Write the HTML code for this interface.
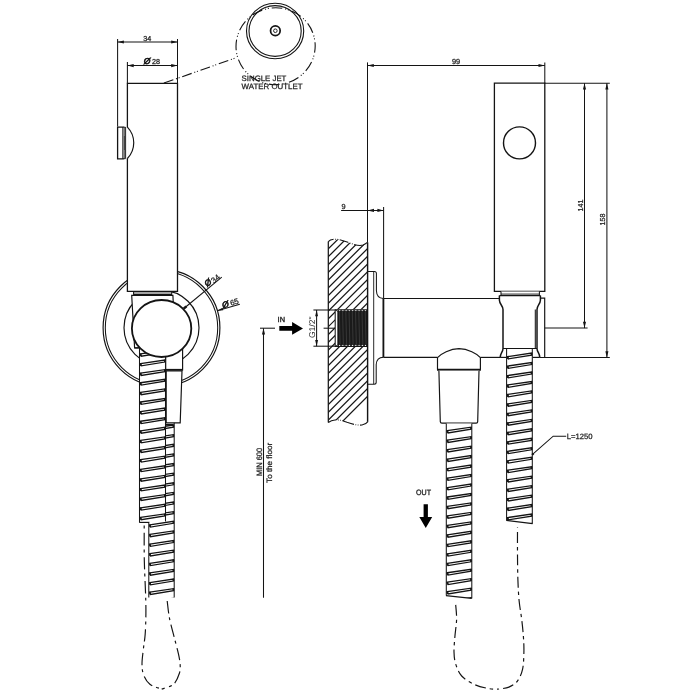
<!DOCTYPE html>
<html lang="en">
<head>
<meta charset="utf-8">
<title>Hand shower set - technical drawing</title>
<style>
html,body{margin:0;padding:0;background:#fff;}
body{width:700px;height:700px;overflow:hidden;}
svg{display:block;will-change:transform;}
svg text{font-family:"Liberation Sans",sans-serif;fill:#262626;stroke:#262626;stroke-width:0.27px;text-rendering:geometricPrecision;}
</style>
</head>
<body>
<svg width="700" height="700" viewBox="0 0 700 700" fill="none" stroke="#141414" stroke-linecap="butt" stroke-linejoin="miter">
<rect x="0" y="0" width="700" height="700" fill="#fff" stroke="none"/>
<circle cx="161.50" cy="327.80" r="58.40" stroke-width="1.17" fill="none" />
<circle cx="161.50" cy="327.80" r="56.20" stroke-width="1.04" fill="none" />
<circle cx="161.50" cy="327.80" r="37.50" stroke-width="1.17" fill="none" />
<clipPath id="h1"><path d="M147.8,420 H175.2 V597.5 H147.8 Z"/></clipPath>
<g clip-path="url(#h1)">
<rect x="148.8" y="415" width="25.399999999999977" height="187.5" fill="#fff" stroke="none"/>
<line x1="148.80" y1="415.00" x2="148.80" y2="602.50" stroke-width="1.04" />
<line x1="174.20" y1="415.00" x2="174.20" y2="602.50" stroke-width="1.04" />
<path d="M149.80,428.60 L173.40,425.10 L173.40,427.10 L150.60,430.90 Z" stroke-width="1.30" fill="#fff" />
<line x1="149.80" y1="428.40" x2="150.10" y2="430.90" stroke-width="1.69" />
<line x1="173.40" y1="424.90" x2="173.40" y2="427.20" stroke-width="1.43" />
<path d="M149.80,438.22 L173.40,434.72 L173.40,436.72 L150.60,440.52 Z" stroke-width="1.30" fill="#fff" />
<line x1="149.80" y1="438.02" x2="150.10" y2="440.52" stroke-width="1.69" />
<line x1="173.40" y1="434.52" x2="173.40" y2="436.82" stroke-width="1.43" />
<path d="M149.80,447.84 L173.40,444.34 L173.40,446.34 L150.60,450.14 Z" stroke-width="1.30" fill="#fff" />
<line x1="149.80" y1="447.64" x2="150.10" y2="450.14" stroke-width="1.69" />
<line x1="173.40" y1="444.14" x2="173.40" y2="446.44" stroke-width="1.43" />
<path d="M149.80,457.46 L173.40,453.96 L173.40,455.96 L150.60,459.76 Z" stroke-width="1.30" fill="#fff" />
<line x1="149.80" y1="457.26" x2="150.10" y2="459.76" stroke-width="1.69" />
<line x1="173.40" y1="453.76" x2="173.40" y2="456.06" stroke-width="1.43" />
<path d="M149.80,467.08 L173.40,463.58 L173.40,465.58 L150.60,469.38 Z" stroke-width="1.30" fill="#fff" />
<line x1="149.80" y1="466.88" x2="150.10" y2="469.38" stroke-width="1.69" />
<line x1="173.40" y1="463.38" x2="173.40" y2="465.68" stroke-width="1.43" />
<path d="M149.80,476.70 L173.40,473.20 L173.40,475.20 L150.60,479.00 Z" stroke-width="1.30" fill="#fff" />
<line x1="149.80" y1="476.50" x2="150.10" y2="479.00" stroke-width="1.69" />
<line x1="173.40" y1="473.00" x2="173.40" y2="475.30" stroke-width="1.43" />
<path d="M149.80,486.32 L173.40,482.82 L173.40,484.82 L150.60,488.62 Z" stroke-width="1.30" fill="#fff" />
<line x1="149.80" y1="486.12" x2="150.10" y2="488.62" stroke-width="1.69" />
<line x1="173.40" y1="482.62" x2="173.40" y2="484.92" stroke-width="1.43" />
<path d="M149.80,495.94 L173.40,492.44 L173.40,494.44 L150.60,498.24 Z" stroke-width="1.30" fill="#fff" />
<line x1="149.80" y1="495.74" x2="150.10" y2="498.24" stroke-width="1.69" />
<line x1="173.40" y1="492.24" x2="173.40" y2="494.54" stroke-width="1.43" />
<path d="M149.80,505.56 L173.40,502.06 L173.40,504.06 L150.60,507.86 Z" stroke-width="1.30" fill="#fff" />
<line x1="149.80" y1="505.36" x2="150.10" y2="507.86" stroke-width="1.69" />
<line x1="173.40" y1="501.86" x2="173.40" y2="504.16" stroke-width="1.43" />
<path d="M149.80,515.18 L173.40,511.68 L173.40,513.68 L150.60,517.48 Z" stroke-width="1.30" fill="#fff" />
<line x1="149.80" y1="514.98" x2="150.10" y2="517.48" stroke-width="1.69" />
<line x1="173.40" y1="511.48" x2="173.40" y2="513.78" stroke-width="1.43" />
<path d="M149.80,524.80 L173.40,521.30 L173.40,523.30 L150.60,527.10 Z" stroke-width="1.30" fill="#fff" />
<line x1="149.80" y1="524.60" x2="150.10" y2="527.10" stroke-width="1.69" />
<line x1="173.40" y1="521.10" x2="173.40" y2="523.40" stroke-width="1.43" />
<path d="M149.80,534.42 L173.40,530.92 L173.40,532.92 L150.60,536.72 Z" stroke-width="1.30" fill="#fff" />
<line x1="149.80" y1="534.22" x2="150.10" y2="536.72" stroke-width="1.69" />
<line x1="173.40" y1="530.72" x2="173.40" y2="533.02" stroke-width="1.43" />
<path d="M149.80,544.04 L173.40,540.54 L173.40,542.54 L150.60,546.34 Z" stroke-width="1.30" fill="#fff" />
<line x1="149.80" y1="543.84" x2="150.10" y2="546.34" stroke-width="1.69" />
<line x1="173.40" y1="540.34" x2="173.40" y2="542.64" stroke-width="1.43" />
<path d="M149.80,553.66 L173.40,550.16 L173.40,552.16 L150.60,555.96 Z" stroke-width="1.30" fill="#fff" />
<line x1="149.80" y1="553.46" x2="150.10" y2="555.96" stroke-width="1.69" />
<line x1="173.40" y1="549.96" x2="173.40" y2="552.26" stroke-width="1.43" />
<path d="M149.80,563.28 L173.40,559.78 L173.40,561.78 L150.60,565.58 Z" stroke-width="1.30" fill="#fff" />
<line x1="149.80" y1="563.08" x2="150.10" y2="565.58" stroke-width="1.69" />
<line x1="173.40" y1="559.58" x2="173.40" y2="561.88" stroke-width="1.43" />
<path d="M149.80,572.90 L173.40,569.40 L173.40,571.40 L150.60,575.20 Z" stroke-width="1.30" fill="#fff" />
<line x1="149.80" y1="572.70" x2="150.10" y2="575.20" stroke-width="1.69" />
<line x1="173.40" y1="569.20" x2="173.40" y2="571.50" stroke-width="1.43" />
<path d="M149.80,582.52 L173.40,579.02 L173.40,581.02 L150.60,584.82 Z" stroke-width="1.30" fill="#fff" />
<line x1="149.80" y1="582.32" x2="150.10" y2="584.82" stroke-width="1.69" />
<line x1="173.40" y1="578.82" x2="173.40" y2="581.12" stroke-width="1.43" />
<path d="M149.80,592.14 L173.40,588.64 L173.40,590.64 L150.60,594.44 Z" stroke-width="1.30" fill="#fff" />
<line x1="149.80" y1="591.94" x2="150.10" y2="594.44" stroke-width="1.69" />
<line x1="173.40" y1="588.44" x2="173.40" y2="590.74" stroke-width="1.43" />
<path d="M149.80,601.76 L173.40,598.26 L173.40,600.26 L150.60,604.06 Z" stroke-width="1.30" fill="#fff" />
<line x1="149.80" y1="601.56" x2="150.10" y2="604.06" stroke-width="1.69" />
<line x1="173.40" y1="598.06" x2="173.40" y2="600.36" stroke-width="1.43" />
</g>
<clipPath id="h2"><path d="M138,345 H167 V521.5 H149.5 V522.6 H138 Z"/></clipPath>
<g clip-path="url(#h2)">
<rect x="139.5" y="340" width="26.0" height="187.60000000000002" fill="#fff" stroke="none"/>
<line x1="139.50" y1="340.00" x2="139.50" y2="527.60" stroke-width="1.04" />
<line x1="165.50" y1="340.00" x2="165.50" y2="527.60" stroke-width="1.04" />
<path d="M140.50,353.90 L164.70,350.40 L164.70,352.40 L141.30,356.20 Z" stroke-width="1.30" fill="#fff" />
<line x1="140.50" y1="353.70" x2="140.80" y2="356.20" stroke-width="1.69" />
<line x1="164.70" y1="350.20" x2="164.70" y2="352.50" stroke-width="1.43" />
<path d="M140.50,363.52 L164.70,360.02 L164.70,362.02 L141.30,365.82 Z" stroke-width="1.30" fill="#fff" />
<line x1="140.50" y1="363.32" x2="140.80" y2="365.82" stroke-width="1.69" />
<line x1="164.70" y1="359.82" x2="164.70" y2="362.12" stroke-width="1.43" />
<path d="M140.50,373.14 L164.70,369.64 L164.70,371.64 L141.30,375.44 Z" stroke-width="1.30" fill="#fff" />
<line x1="140.50" y1="372.94" x2="140.80" y2="375.44" stroke-width="1.69" />
<line x1="164.70" y1="369.44" x2="164.70" y2="371.74" stroke-width="1.43" />
<path d="M140.50,382.76 L164.70,379.26 L164.70,381.26 L141.30,385.06 Z" stroke-width="1.30" fill="#fff" />
<line x1="140.50" y1="382.56" x2="140.80" y2="385.06" stroke-width="1.69" />
<line x1="164.70" y1="379.06" x2="164.70" y2="381.36" stroke-width="1.43" />
<path d="M140.50,392.38 L164.70,388.88 L164.70,390.88 L141.30,394.68 Z" stroke-width="1.30" fill="#fff" />
<line x1="140.50" y1="392.18" x2="140.80" y2="394.68" stroke-width="1.69" />
<line x1="164.70" y1="388.68" x2="164.70" y2="390.98" stroke-width="1.43" />
<path d="M140.50,402.00 L164.70,398.50 L164.70,400.50 L141.30,404.30 Z" stroke-width="1.30" fill="#fff" />
<line x1="140.50" y1="401.80" x2="140.80" y2="404.30" stroke-width="1.69" />
<line x1="164.70" y1="398.30" x2="164.70" y2="400.60" stroke-width="1.43" />
<path d="M140.50,411.62 L164.70,408.12 L164.70,410.12 L141.30,413.92 Z" stroke-width="1.30" fill="#fff" />
<line x1="140.50" y1="411.42" x2="140.80" y2="413.92" stroke-width="1.69" />
<line x1="164.70" y1="407.92" x2="164.70" y2="410.22" stroke-width="1.43" />
<path d="M140.50,421.24 L164.70,417.74 L164.70,419.74 L141.30,423.54 Z" stroke-width="1.30" fill="#fff" />
<line x1="140.50" y1="421.04" x2="140.80" y2="423.54" stroke-width="1.69" />
<line x1="164.70" y1="417.54" x2="164.70" y2="419.84" stroke-width="1.43" />
<path d="M140.50,430.86 L164.70,427.36 L164.70,429.36 L141.30,433.16 Z" stroke-width="1.30" fill="#fff" />
<line x1="140.50" y1="430.66" x2="140.80" y2="433.16" stroke-width="1.69" />
<line x1="164.70" y1="427.16" x2="164.70" y2="429.46" stroke-width="1.43" />
<path d="M140.50,440.48 L164.70,436.98 L164.70,438.98 L141.30,442.78 Z" stroke-width="1.30" fill="#fff" />
<line x1="140.50" y1="440.28" x2="140.80" y2="442.78" stroke-width="1.69" />
<line x1="164.70" y1="436.78" x2="164.70" y2="439.08" stroke-width="1.43" />
<path d="M140.50,450.10 L164.70,446.60 L164.70,448.60 L141.30,452.40 Z" stroke-width="1.30" fill="#fff" />
<line x1="140.50" y1="449.90" x2="140.80" y2="452.40" stroke-width="1.69" />
<line x1="164.70" y1="446.40" x2="164.70" y2="448.70" stroke-width="1.43" />
<path d="M140.50,459.72 L164.70,456.22 L164.70,458.22 L141.30,462.02 Z" stroke-width="1.30" fill="#fff" />
<line x1="140.50" y1="459.52" x2="140.80" y2="462.02" stroke-width="1.69" />
<line x1="164.70" y1="456.02" x2="164.70" y2="458.32" stroke-width="1.43" />
<path d="M140.50,469.34 L164.70,465.84 L164.70,467.84 L141.30,471.64 Z" stroke-width="1.30" fill="#fff" />
<line x1="140.50" y1="469.14" x2="140.80" y2="471.64" stroke-width="1.69" />
<line x1="164.70" y1="465.64" x2="164.70" y2="467.94" stroke-width="1.43" />
<path d="M140.50,478.96 L164.70,475.46 L164.70,477.46 L141.30,481.26 Z" stroke-width="1.30" fill="#fff" />
<line x1="140.50" y1="478.76" x2="140.80" y2="481.26" stroke-width="1.69" />
<line x1="164.70" y1="475.26" x2="164.70" y2="477.56" stroke-width="1.43" />
<path d="M140.50,488.58 L164.70,485.08 L164.70,487.08 L141.30,490.88 Z" stroke-width="1.30" fill="#fff" />
<line x1="140.50" y1="488.38" x2="140.80" y2="490.88" stroke-width="1.69" />
<line x1="164.70" y1="484.88" x2="164.70" y2="487.18" stroke-width="1.43" />
<path d="M140.50,498.20 L164.70,494.70 L164.70,496.70 L141.30,500.50 Z" stroke-width="1.30" fill="#fff" />
<line x1="140.50" y1="498.00" x2="140.80" y2="500.50" stroke-width="1.69" />
<line x1="164.70" y1="494.50" x2="164.70" y2="496.80" stroke-width="1.43" />
<path d="M140.50,507.82 L164.70,504.32 L164.70,506.32 L141.30,510.12 Z" stroke-width="1.30" fill="#fff" />
<line x1="140.50" y1="507.62" x2="140.80" y2="510.12" stroke-width="1.69" />
<line x1="164.70" y1="504.12" x2="164.70" y2="506.42" stroke-width="1.43" />
<path d="M140.50,517.44 L164.70,513.94 L164.70,515.94 L141.30,519.74 Z" stroke-width="1.30" fill="#fff" />
<line x1="140.50" y1="517.24" x2="140.80" y2="519.74" stroke-width="1.69" />
<line x1="164.70" y1="513.74" x2="164.70" y2="516.04" stroke-width="1.43" />
<path d="M140.50,527.06 L164.70,523.56 L164.70,525.56 L141.30,529.36 Z" stroke-width="1.30" fill="#fff" />
<line x1="140.50" y1="526.86" x2="140.80" y2="529.36" stroke-width="1.69" />
<line x1="164.70" y1="523.36" x2="164.70" y2="525.66" stroke-width="1.43" />
</g>
<line x1="139.30" y1="522.40" x2="149.20" y2="522.40" stroke-width="1.17" />
<path d="M165.7,345 L182.6,345 L182.6,369.8 L165.7,369.8 Z" stroke-width="1.17" fill="#fff" />
<line x1="165.00" y1="369.80" x2="182.60" y2="369.80" stroke-width="1.82" />
<path d="M166.2,370.8 L182.0,370.8 L180.2,422.8 L166.2,422.8 Z" stroke-width="1.17" fill="#fff" />
<line x1="165.00" y1="424.80" x2="173.50" y2="424.80" stroke-width="1.56" />
<path d="M131.7,295.4 L172.9,295.4 L173.6,310 L150,345 L137.9,347.9 L134.6,347.9 Z" stroke-width="1.17" fill="#fff" />
<line x1="134.60" y1="347.90" x2="139.30" y2="347.90" stroke-width="1.17" />
<path d="M133.6,291.4 V294.4 H171.7 V291.4" stroke-width="1.04" fill="#fff" />
<line x1="133.60" y1="293.00" x2="171.70" y2="293.00" stroke-width="0.78" />
<path d="M127.4,83.4 H177.5 V291.4 H127.4 Z" stroke-width="1.30" fill="#fff" />
<ellipse cx="161.6" cy="328.5" rx="29.7" ry="28.5" stroke-width="1.82" fill="#fff"/>
<rect x="126.4" y="127.6" width="2.2" height="30.6" fill="#fff" stroke="none"/>
<path d="M117.6,127.1 H123.0 V158.8 H117.6 Z" stroke-width="1.30" fill="#fff" />
<rect x="123.0" y="127.3" width="2.3" height="31.3" fill="#8a8a8a" stroke="none"/>
<rect x="123.6" y="135.7" width="1.2" height="14.6" fill="#fff" stroke="none"/>
<line x1="125.30" y1="127.10" x2="125.30" y2="158.80" stroke-width="1.04" />
<line x1="124.20" y1="135.70" x2="124.20" y2="150.30" stroke-width="1.04" />
<line x1="123.00" y1="127.20" x2="125.30" y2="127.20" stroke-width="0.91" />
<line x1="123.00" y1="158.70" x2="125.30" y2="158.70" stroke-width="0.91" />
<path d="M127.4,127.1 A22.6,22.6 0 0 1 127.4,158.5" stroke-width="1.17" fill="none" />
<line x1="117.60" y1="39.00" x2="117.60" y2="126.60" stroke-width="1.04" />
<line x1="177.50" y1="39.00" x2="177.50" y2="83.40" stroke-width="1.04" />
<line x1="117.60" y1="42.00" x2="177.50" y2="42.00" stroke-width="1.04" />
<polygon points="117.60,42.00 123.90,40.45 123.90,43.55" fill="#141414" stroke="none"/>
<polygon points="177.50,42.00 171.20,43.55 171.20,40.45" fill="#141414" stroke="none"/>
<text x="147.20" y="40.70" font-size="7.2" text-anchor="middle" >34</text>
<line x1="127.40" y1="62.00" x2="127.40" y2="83.40" stroke-width="1.04" />
<line x1="127.40" y1="65.60" x2="177.50" y2="65.60" stroke-width="1.04" />
<polygon points="127.40,65.60 133.70,64.05 133.70,67.15" fill="#141414" stroke="none"/>
<polygon points="177.50,65.60 171.20,67.15 171.20,64.05" fill="#141414" stroke="none"/>
<g transform="translate(147.10 61.40)">
<text x="0" y="3.08" font-size="8.6" text-anchor="middle" font-style="italic" style="fill:#141414;stroke:#141414;stroke-width:0.6px">&#216;</text>
</g>
<text x="152.00" y="63.80" font-size="7.2" text-anchor="start" >28</text>
<line x1="163.90" y1="83.10" x2="237.10" y2="57.40" stroke-width="1.10" stroke-dasharray="10 2.8 1 1.8 1 2.8"/>
<ellipse cx="275.1" cy="31.0" rx="28.6" ry="27.8" stroke-width="1.1"/>
<ellipse cx="275.1" cy="31.0" rx="26.1" ry="25.4" stroke-width="1.1"/>
<circle cx="275.35" cy="30.75" r="4.8" stroke-width="1.75"/>
<circle cx="275.35" cy="30.75" r="1.8" stroke-width="0.9"/>
<ellipse cx="275.6" cy="46.2" rx="39.6" ry="38.4" stroke-width="1.10" pathLength="240" stroke-dasharray="10.4 2.9 1 1.8 1 2.9" transform="rotate(-5.8 275.6 46.2)"/>
<text x="241.60" y="80.60" font-size="7.8" text-anchor="start"  textLength="44.8" lengthAdjust="spacingAndGlyphs">SINGLE JET</text>
<text x="241.60" y="89.40" font-size="7.8" text-anchor="start"  textLength="61.0" lengthAdjust="spacingAndGlyphs">WATER OUTLET</text>
<line x1="183.85" y1="308.49" x2="221.80" y2="277.10" stroke-width="1.04" />
<line x1="183.85" y1="308.49" x2="186.47" y2="306.33" stroke-width="2.47" />
<g transform="translate(207.90 282.50) rotate(-39.6)">
<text x="0" y="3.08" font-size="8.6" text-anchor="middle" font-style="italic" style="fill:#141414;stroke:#141414;stroke-width:0.6px">&#216;</text>
</g>
<g transform="translate(215.4 278.6) rotate(-39.6)">
<text x="0.00" y="2.80" font-size="7.8" text-anchor="middle" >34</text>
</g>
<line x1="217.10" y1="310.70" x2="239.80" y2="304.30" stroke-width="1.04" />
<polygon points="217.10,310.70 222.51,307.81 223.23,310.31" fill="#141414" stroke="none"/>
<g transform="translate(225.40 304.30) rotate(-15.9)">
<text x="0" y="3.08" font-size="8.6" text-anchor="middle" font-style="italic" style="fill:#141414;stroke:#141414;stroke-width:0.6px">&#216;</text>
</g>
<g transform="translate(234.3 301.8) rotate(-15.9)">
<text x="0.00" y="2.80" font-size="7.8" text-anchor="middle" >65</text>
</g>
<path d="M144.20,525.50 C144.22,531.25 144.07,548.47 144.30,560.00 C144.53,571.53 145.33,585.77 145.60,594.70 C145.87,603.63 145.97,607.05 145.90,613.60 C145.83,620.15 145.63,627.98 145.20,634.00 C144.77,640.02 143.83,644.72 143.30,649.70 C142.77,654.68 141.95,659.70 142.00,663.90 C142.05,668.10 142.28,671.50 143.60,674.90 C144.92,678.30 146.88,681.93 149.90,684.30 C152.92,686.67 159.73,688.30 161.70,689.10 " stroke-width="1.17" fill="none" stroke-dasharray="12.5 4 3 4.5" stroke-dashoffset="16.5"/>
<path d="M167.20,601.00 C167.58,603.88 168.33,612.27 169.50,618.30 C170.67,624.33 172.75,631.43 174.20,637.20 C175.65,642.97 177.22,648.45 178.20,652.90 C179.18,657.35 179.90,660.50 180.10,663.90 C180.30,667.30 180.50,669.90 179.40,673.30 C178.30,676.70 176.45,681.67 173.50,684.30 C170.55,686.93 163.67,688.30 161.70,689.10 " stroke-width="1.17" fill="none" stroke-dasharray="12.5 4 3 4.5"/>
<line x1="260.00" y1="328.20" x2="275.00" y2="328.20" stroke-width="1.04" />
<line x1="263.50" y1="328.20" x2="263.50" y2="597.80" stroke-width="1.04" />
<polygon points="263.50,328.20 265.05,334.50 261.95,334.50" fill="#141414" stroke="none"/>
<text x="261.70" y="476.00" font-size="7.8" text-anchor="start" transform="rotate(-90 261.70 476.00)"  textLength="28.1" lengthAdjust="spacingAndGlyphs">MIN 600</text>
<text x="272.10" y="482.90" font-size="7.8" text-anchor="start" transform="rotate(-90 272.10 482.90)"  textLength="40.0" lengthAdjust="spacingAndGlyphs">To the floor</text>
<text x="277.60" y="321.90" font-size="7.4" text-anchor="start" style="stroke-width:0.38px">IN</text>
<polygon points="279.3,326.1 292.1,326.1 292.1,322.1 303.0,328.4 292.1,334.7 292.1,330.7 279.3,330.7" fill="#000" stroke="none"/>
<clipPath id="wallc"><path d="M328.3,241.6 C329.5,240.2 331,239.4 334,239.2 C340,238.8 346,241.8 352,243.8 C356,245.2 360,246 363,245 C365,244.2 366.5,243.2 367.4,242.4 L367.9,421.6 C366.5,423.5 365,424.6 362,425 C357,425.6 352,424 347,422.2 C343,420.6 339,419.6 335,420 C332,420.3 330,421.3 328.3,422.5 Z"/></clipPath>
<g clip-path="url(#wallc)">
<line x1="320.00" y1="179.40" x2="375.00" y2="124.40" stroke-width="1.23" />
<line x1="320.00" y1="187.18" x2="375.00" y2="132.18" stroke-width="1.23" />
<line x1="320.00" y1="194.96" x2="375.00" y2="139.96" stroke-width="1.23" />
<line x1="320.00" y1="202.74" x2="375.00" y2="147.74" stroke-width="1.23" />
<line x1="320.00" y1="210.52" x2="375.00" y2="155.52" stroke-width="1.23" />
<line x1="320.00" y1="218.30" x2="375.00" y2="163.30" stroke-width="1.23" />
<line x1="320.00" y1="226.08" x2="375.00" y2="171.08" stroke-width="1.23" />
<line x1="320.00" y1="233.86" x2="375.00" y2="178.86" stroke-width="1.23" />
<line x1="320.00" y1="241.64" x2="375.00" y2="186.64" stroke-width="1.23" />
<line x1="320.00" y1="249.42" x2="375.00" y2="194.42" stroke-width="1.23" />
<line x1="320.00" y1="257.20" x2="375.00" y2="202.20" stroke-width="1.23" />
<line x1="320.00" y1="264.98" x2="375.00" y2="209.98" stroke-width="1.23" />
<line x1="320.00" y1="272.76" x2="375.00" y2="217.76" stroke-width="1.23" />
<line x1="320.00" y1="280.54" x2="375.00" y2="225.54" stroke-width="1.23" />
<line x1="320.00" y1="288.32" x2="375.00" y2="233.32" stroke-width="1.23" />
<line x1="320.00" y1="296.10" x2="375.00" y2="241.10" stroke-width="1.23" />
<line x1="320.00" y1="303.88" x2="375.00" y2="248.88" stroke-width="1.23" />
<line x1="320.00" y1="311.66" x2="375.00" y2="256.66" stroke-width="1.23" />
<line x1="320.00" y1="319.44" x2="375.00" y2="264.44" stroke-width="1.23" />
<line x1="320.00" y1="327.22" x2="375.00" y2="272.22" stroke-width="1.23" />
<line x1="320.00" y1="335.00" x2="375.00" y2="280.00" stroke-width="1.23" />
<line x1="320.00" y1="342.78" x2="375.00" y2="287.78" stroke-width="1.23" />
<line x1="320.00" y1="350.56" x2="375.00" y2="295.56" stroke-width="1.23" />
<line x1="320.00" y1="358.34" x2="375.00" y2="303.34" stroke-width="1.23" />
<line x1="320.00" y1="366.12" x2="375.00" y2="311.12" stroke-width="1.23" />
<line x1="320.00" y1="373.90" x2="375.00" y2="318.90" stroke-width="1.23" />
<line x1="320.00" y1="381.68" x2="375.00" y2="326.68" stroke-width="1.23" />
<line x1="320.00" y1="389.46" x2="375.00" y2="334.46" stroke-width="1.23" />
<line x1="320.00" y1="397.24" x2="375.00" y2="342.24" stroke-width="1.23" />
<line x1="320.00" y1="405.02" x2="375.00" y2="350.02" stroke-width="1.23" />
<line x1="320.00" y1="412.80" x2="375.00" y2="357.80" stroke-width="1.23" />
<line x1="320.00" y1="420.58" x2="375.00" y2="365.58" stroke-width="1.23" />
<line x1="320.00" y1="428.36" x2="375.00" y2="373.36" stroke-width="1.23" />
<line x1="320.00" y1="436.14" x2="375.00" y2="381.14" stroke-width="1.23" />
<line x1="320.00" y1="443.92" x2="375.00" y2="388.92" stroke-width="1.23" />
<rect x="335" y="309.6" width="33" height="37" fill="#fff" stroke="none"/>
</g>
<line x1="328.30" y1="241.60" x2="328.30" y2="422.50" stroke-width="1.23" />
<path d="M328.3,241.6 C329.5,240.2 331,239.4 334,239.2 C340,238.8 346,241.8 352,243.8 C356,245.2 360,246 363,245 C365,244.2 366.5,243.2 367.4,242.4" stroke-width="1.04" fill="none" stroke-dasharray="6 1.5 0.8 1.5 0.8 1.5 9 1.5 0.8 1.5 0.8 1.5 20"/>
<path d="M367.9,421.6 C366.5,423.5 365,424.6 362,425 C357,425.6 352,424 347,422.2 C343,420.6 339,419.6 335,420 C332,420.3 330,421.3 328.3,422.5" stroke-width="1.04" fill="none" stroke-dasharray="9 1.5 0.8 1.5 0.8 1.5 12 1.5 0.8 1.5 0.8 1.5 20"/>
<path d="M335.2,309.8 H367.2 V346.4 H335.2 Z" stroke-width="1.04" fill="#fff" />
<path d="M338,310.2 L339.62,311.6 L341.24,310.2 L342.87,311.6 L344.49,310.2 L346.11,311.6 L347.73,310.2 L349.36,311.6 L350.98,310.2 L352.60,311.6 L354.22,310.2 L355.84,311.6 L357.47,310.2 L359.09,311.6 L360.71,310.2 L362.33,311.6 L363.96,310.2 L365.58,311.6 L367.20,310.2 L367.2,346 L365.58,344.6 L363.96,346 L362.33,344.6 L360.71,346 L359.09,344.6 L357.47,346 L355.84,344.6 L354.22,346 L352.60,344.6 L350.98,346 L349.36,344.6 L347.73,346 L346.11,344.6 L344.49,346 L342.87,344.6 L341.24,346 L339.62,344.6 L338.00,346 Z" stroke-width="0.78" fill="#1a1a1a" />
<line x1="339.32" y1="312.00" x2="340.12" y2="344.40" stroke-width="0.59" stroke="#4a4a4a"/>
<line x1="342.57" y1="312.00" x2="343.37" y2="344.40" stroke-width="0.59" stroke="#4a4a4a"/>
<line x1="345.81" y1="312.00" x2="346.61" y2="344.40" stroke-width="0.59" stroke="#4a4a4a"/>
<line x1="349.06" y1="312.00" x2="349.86" y2="344.40" stroke-width="0.59" stroke="#4a4a4a"/>
<line x1="352.30" y1="312.00" x2="353.10" y2="344.40" stroke-width="0.59" stroke="#4a4a4a"/>
<line x1="355.54" y1="312.00" x2="356.34" y2="344.40" stroke-width="0.59" stroke="#4a4a4a"/>
<line x1="358.79" y1="312.00" x2="359.59" y2="344.40" stroke-width="0.59" stroke="#4a4a4a"/>
<line x1="362.03" y1="312.00" x2="362.83" y2="344.40" stroke-width="0.59" stroke="#4a4a4a"/>
<line x1="365.28" y1="312.00" x2="366.08" y2="344.40" stroke-width="0.59" stroke="#4a4a4a"/>
<path d="M335.2,309.8 L338,311.5 V344.8 L335.2,346.4" stroke-width="0.91" fill="none" />
<line x1="323.60" y1="328.20" x2="334.30" y2="328.20" stroke-width="1.04" />
<line x1="313.40" y1="310.00" x2="335.20" y2="310.00" stroke-width="1.04" />
<line x1="313.40" y1="346.20" x2="335.20" y2="346.20" stroke-width="1.04" />
<line x1="316.60" y1="310.00" x2="316.60" y2="346.20" stroke-width="1.04" />
<polygon points="316.60,310.00 318.05,316.20 315.15,316.20" fill="#141414" stroke="none"/>
<polygon points="316.60,346.20 315.15,340.00 318.05,340.00" fill="#141414" stroke="none"/>
<text x="315.20" y="338.10" font-size="8.4" text-anchor="start" transform="rotate(-90 315.20 338.10)" style="stroke-width:0" textLength="21.6" lengthAdjust="spacingAndGlyphs">G1/2&quot;</text>
<path d="M367.2,271.4 H374.4 Q376.4,271.4 376.4,273.4 V290.6 Q376.6,298.4 383.4,298.5" stroke-width="1.04" fill="none" />
<path d="M367.2,384.3 H374.2 Q376.2,384.3 376.2,382.3 V364.5 Q376.6,357.6 383.4,357.3" stroke-width="1.04" fill="none" />
<line x1="373.70" y1="271.80" x2="373.70" y2="384.00" stroke-width="0.91" />
<line x1="367.60" y1="242.40" x2="367.60" y2="421.80" stroke-width="1.43" />
<line x1="383.40" y1="298.50" x2="499.40" y2="298.50" stroke-width="1.17" />
<line x1="383.40" y1="298.50" x2="383.40" y2="357.30" stroke-width="1.82" />
<line x1="383.40" y1="357.40" x2="437.40" y2="357.40" stroke-width="1.17" />
<line x1="480.40" y1="357.40" x2="500.40" y2="357.40" stroke-width="1.17" />
<line x1="540.00" y1="357.50" x2="609.80" y2="357.50" stroke-width="1.17" />
<path d="M437.5,369.6 V357.6 C441,353.8 450,348.8 459,348.7 C468,348.8 477,353.8 480.4,357.6 V369.6" stroke-width="1.17" fill="#fff" />
<line x1="437.00" y1="369.70" x2="480.90" y2="369.70" stroke-width="1.95" />
<path d="M438.9,370.8 L440.3,421.6 Q440.4,423.1 441.9,423.1 H476.2 Q477.6,423.1 477.7,421.6 L479.0,370.8" stroke-width="1.17" fill="#fff" />
<clipPath id="h3"><path d="M445,423.4 H473 V598.6 L445,595.6 Z"/></clipPath>
<g clip-path="url(#h3)">
<rect x="446.3" y="418.4" width="25.5" height="186.60000000000002" fill="#fff" stroke="none"/>
<line x1="446.30" y1="418.40" x2="446.30" y2="605.00" stroke-width="1.04" />
<line x1="471.80" y1="418.40" x2="471.80" y2="605.00" stroke-width="1.04" />
<path d="M447.30,430.70 L471.00,427.20 L471.00,429.20 L448.10,433.00 Z" stroke-width="1.30" fill="#fff" />
<line x1="447.30" y1="430.50" x2="447.60" y2="433.00" stroke-width="1.69" />
<line x1="471.00" y1="427.00" x2="471.00" y2="429.30" stroke-width="1.43" />
<path d="M447.30,440.17 L471.00,436.67 L471.00,438.67 L448.10,442.47 Z" stroke-width="1.30" fill="#fff" />
<line x1="447.30" y1="439.97" x2="447.60" y2="442.47" stroke-width="1.69" />
<line x1="471.00" y1="436.47" x2="471.00" y2="438.77" stroke-width="1.43" />
<path d="M447.30,449.64 L471.00,446.14 L471.00,448.14 L448.10,451.94 Z" stroke-width="1.30" fill="#fff" />
<line x1="447.30" y1="449.44" x2="447.60" y2="451.94" stroke-width="1.69" />
<line x1="471.00" y1="445.94" x2="471.00" y2="448.24" stroke-width="1.43" />
<path d="M447.30,459.11 L471.00,455.61 L471.00,457.61 L448.10,461.41 Z" stroke-width="1.30" fill="#fff" />
<line x1="447.30" y1="458.91" x2="447.60" y2="461.41" stroke-width="1.69" />
<line x1="471.00" y1="455.41" x2="471.00" y2="457.71" stroke-width="1.43" />
<path d="M447.30,468.58 L471.00,465.08 L471.00,467.08 L448.10,470.88 Z" stroke-width="1.30" fill="#fff" />
<line x1="447.30" y1="468.38" x2="447.60" y2="470.88" stroke-width="1.69" />
<line x1="471.00" y1="464.88" x2="471.00" y2="467.18" stroke-width="1.43" />
<path d="M447.30,478.05 L471.00,474.55 L471.00,476.55 L448.10,480.35 Z" stroke-width="1.30" fill="#fff" />
<line x1="447.30" y1="477.85" x2="447.60" y2="480.35" stroke-width="1.69" />
<line x1="471.00" y1="474.35" x2="471.00" y2="476.65" stroke-width="1.43" />
<path d="M447.30,487.52 L471.00,484.02 L471.00,486.02 L448.10,489.82 Z" stroke-width="1.30" fill="#fff" />
<line x1="447.30" y1="487.32" x2="447.60" y2="489.82" stroke-width="1.69" />
<line x1="471.00" y1="483.82" x2="471.00" y2="486.12" stroke-width="1.43" />
<path d="M447.30,496.99 L471.00,493.49 L471.00,495.49 L448.10,499.29 Z" stroke-width="1.30" fill="#fff" />
<line x1="447.30" y1="496.79" x2="447.60" y2="499.29" stroke-width="1.69" />
<line x1="471.00" y1="493.29" x2="471.00" y2="495.59" stroke-width="1.43" />
<path d="M447.30,506.46 L471.00,502.96 L471.00,504.96 L448.10,508.76 Z" stroke-width="1.30" fill="#fff" />
<line x1="447.30" y1="506.26" x2="447.60" y2="508.76" stroke-width="1.69" />
<line x1="471.00" y1="502.76" x2="471.00" y2="505.06" stroke-width="1.43" />
<path d="M447.30,515.93 L471.00,512.43 L471.00,514.43 L448.10,518.23 Z" stroke-width="1.30" fill="#fff" />
<line x1="447.30" y1="515.73" x2="447.60" y2="518.23" stroke-width="1.69" />
<line x1="471.00" y1="512.23" x2="471.00" y2="514.53" stroke-width="1.43" />
<path d="M447.30,525.40 L471.00,521.90 L471.00,523.90 L448.10,527.70 Z" stroke-width="1.30" fill="#fff" />
<line x1="447.30" y1="525.20" x2="447.60" y2="527.70" stroke-width="1.69" />
<line x1="471.00" y1="521.70" x2="471.00" y2="524.00" stroke-width="1.43" />
<path d="M447.30,534.87 L471.00,531.37 L471.00,533.37 L448.10,537.17 Z" stroke-width="1.30" fill="#fff" />
<line x1="447.30" y1="534.67" x2="447.60" y2="537.17" stroke-width="1.69" />
<line x1="471.00" y1="531.17" x2="471.00" y2="533.47" stroke-width="1.43" />
<path d="M447.30,544.34 L471.00,540.84 L471.00,542.84 L448.10,546.64 Z" stroke-width="1.30" fill="#fff" />
<line x1="447.30" y1="544.14" x2="447.60" y2="546.64" stroke-width="1.69" />
<line x1="471.00" y1="540.64" x2="471.00" y2="542.94" stroke-width="1.43" />
<path d="M447.30,553.81 L471.00,550.31 L471.00,552.31 L448.10,556.11 Z" stroke-width="1.30" fill="#fff" />
<line x1="447.30" y1="553.61" x2="447.60" y2="556.11" stroke-width="1.69" />
<line x1="471.00" y1="550.11" x2="471.00" y2="552.41" stroke-width="1.43" />
<path d="M447.30,563.28 L471.00,559.78 L471.00,561.78 L448.10,565.58 Z" stroke-width="1.30" fill="#fff" />
<line x1="447.30" y1="563.08" x2="447.60" y2="565.58" stroke-width="1.69" />
<line x1="471.00" y1="559.58" x2="471.00" y2="561.88" stroke-width="1.43" />
<path d="M447.30,572.75 L471.00,569.25 L471.00,571.25 L448.10,575.05 Z" stroke-width="1.30" fill="#fff" />
<line x1="447.30" y1="572.55" x2="447.60" y2="575.05" stroke-width="1.69" />
<line x1="471.00" y1="569.05" x2="471.00" y2="571.35" stroke-width="1.43" />
<path d="M447.30,582.22 L471.00,578.72 L471.00,580.72 L448.10,584.52 Z" stroke-width="1.30" fill="#fff" />
<line x1="447.30" y1="582.02" x2="447.60" y2="584.52" stroke-width="1.69" />
<line x1="471.00" y1="578.52" x2="471.00" y2="580.82" stroke-width="1.43" />
<path d="M447.30,591.69 L471.00,588.19 L471.00,590.19 L448.10,593.99 Z" stroke-width="1.30" fill="#fff" />
<line x1="447.30" y1="591.49" x2="447.60" y2="593.99" stroke-width="1.69" />
<line x1="471.00" y1="587.99" x2="471.00" y2="590.29" stroke-width="1.43" />
<path d="M447.30,601.16 L471.00,597.66 L471.00,599.66 L448.10,603.46 Z" stroke-width="1.30" fill="#fff" />
<line x1="447.30" y1="600.96" x2="447.60" y2="603.46" stroke-width="1.69" />
<line x1="471.00" y1="597.46" x2="471.00" y2="599.76" stroke-width="1.43" />
</g>
<line x1="446.00" y1="595.60" x2="471.60" y2="598.40" stroke-width="1.17" />
<clipPath id="h4"><path d="M505,348.6 H534.5 V523.8 L505,520.4 Z"/></clipPath>
<g clip-path="url(#h4)">
<rect x="506.6" y="343.6" width="25.699999999999932" height="187.39999999999998" fill="#fff" stroke="none"/>
<line x1="506.60" y1="343.60" x2="506.60" y2="531.00" stroke-width="1.04" />
<line x1="532.30" y1="343.60" x2="532.30" y2="531.00" stroke-width="1.04" />
<path d="M507.60,356.60 L531.50,353.10 L531.50,355.10 L508.40,358.90 Z" stroke-width="1.30" fill="#fff" />
<line x1="507.60" y1="356.40" x2="507.90" y2="358.90" stroke-width="1.69" />
<line x1="531.50" y1="352.90" x2="531.50" y2="355.20" stroke-width="1.43" />
<path d="M507.60,366.07 L531.50,362.57 L531.50,364.57 L508.40,368.37 Z" stroke-width="1.30" fill="#fff" />
<line x1="507.60" y1="365.87" x2="507.90" y2="368.37" stroke-width="1.69" />
<line x1="531.50" y1="362.37" x2="531.50" y2="364.67" stroke-width="1.43" />
<path d="M507.60,375.54 L531.50,372.04 L531.50,374.04 L508.40,377.84 Z" stroke-width="1.30" fill="#fff" />
<line x1="507.60" y1="375.34" x2="507.90" y2="377.84" stroke-width="1.69" />
<line x1="531.50" y1="371.84" x2="531.50" y2="374.14" stroke-width="1.43" />
<path d="M507.60,385.01 L531.50,381.51 L531.50,383.51 L508.40,387.31 Z" stroke-width="1.30" fill="#fff" />
<line x1="507.60" y1="384.81" x2="507.90" y2="387.31" stroke-width="1.69" />
<line x1="531.50" y1="381.31" x2="531.50" y2="383.61" stroke-width="1.43" />
<path d="M507.60,394.48 L531.50,390.98 L531.50,392.98 L508.40,396.78 Z" stroke-width="1.30" fill="#fff" />
<line x1="507.60" y1="394.28" x2="507.90" y2="396.78" stroke-width="1.69" />
<line x1="531.50" y1="390.78" x2="531.50" y2="393.08" stroke-width="1.43" />
<path d="M507.60,403.95 L531.50,400.45 L531.50,402.45 L508.40,406.25 Z" stroke-width="1.30" fill="#fff" />
<line x1="507.60" y1="403.75" x2="507.90" y2="406.25" stroke-width="1.69" />
<line x1="531.50" y1="400.25" x2="531.50" y2="402.55" stroke-width="1.43" />
<path d="M507.60,413.42 L531.50,409.92 L531.50,411.92 L508.40,415.72 Z" stroke-width="1.30" fill="#fff" />
<line x1="507.60" y1="413.22" x2="507.90" y2="415.72" stroke-width="1.69" />
<line x1="531.50" y1="409.72" x2="531.50" y2="412.02" stroke-width="1.43" />
<path d="M507.60,422.89 L531.50,419.39 L531.50,421.39 L508.40,425.19 Z" stroke-width="1.30" fill="#fff" />
<line x1="507.60" y1="422.69" x2="507.90" y2="425.19" stroke-width="1.69" />
<line x1="531.50" y1="419.19" x2="531.50" y2="421.49" stroke-width="1.43" />
<path d="M507.60,432.36 L531.50,428.86 L531.50,430.86 L508.40,434.66 Z" stroke-width="1.30" fill="#fff" />
<line x1="507.60" y1="432.16" x2="507.90" y2="434.66" stroke-width="1.69" />
<line x1="531.50" y1="428.66" x2="531.50" y2="430.96" stroke-width="1.43" />
<path d="M507.60,441.83 L531.50,438.33 L531.50,440.33 L508.40,444.13 Z" stroke-width="1.30" fill="#fff" />
<line x1="507.60" y1="441.63" x2="507.90" y2="444.13" stroke-width="1.69" />
<line x1="531.50" y1="438.13" x2="531.50" y2="440.43" stroke-width="1.43" />
<path d="M507.60,451.30 L531.50,447.80 L531.50,449.80 L508.40,453.60 Z" stroke-width="1.30" fill="#fff" />
<line x1="507.60" y1="451.10" x2="507.90" y2="453.60" stroke-width="1.69" />
<line x1="531.50" y1="447.60" x2="531.50" y2="449.90" stroke-width="1.43" />
<path d="M507.60,460.77 L531.50,457.27 L531.50,459.27 L508.40,463.07 Z" stroke-width="1.30" fill="#fff" />
<line x1="507.60" y1="460.57" x2="507.90" y2="463.07" stroke-width="1.69" />
<line x1="531.50" y1="457.07" x2="531.50" y2="459.37" stroke-width="1.43" />
<path d="M507.60,470.24 L531.50,466.74 L531.50,468.74 L508.40,472.54 Z" stroke-width="1.30" fill="#fff" />
<line x1="507.60" y1="470.04" x2="507.90" y2="472.54" stroke-width="1.69" />
<line x1="531.50" y1="466.54" x2="531.50" y2="468.84" stroke-width="1.43" />
<path d="M507.60,479.71 L531.50,476.21 L531.50,478.21 L508.40,482.01 Z" stroke-width="1.30" fill="#fff" />
<line x1="507.60" y1="479.51" x2="507.90" y2="482.01" stroke-width="1.69" />
<line x1="531.50" y1="476.01" x2="531.50" y2="478.31" stroke-width="1.43" />
<path d="M507.60,489.18 L531.50,485.68 L531.50,487.68 L508.40,491.48 Z" stroke-width="1.30" fill="#fff" />
<line x1="507.60" y1="488.98" x2="507.90" y2="491.48" stroke-width="1.69" />
<line x1="531.50" y1="485.48" x2="531.50" y2="487.78" stroke-width="1.43" />
<path d="M507.60,498.65 L531.50,495.15 L531.50,497.15 L508.40,500.95 Z" stroke-width="1.30" fill="#fff" />
<line x1="507.60" y1="498.45" x2="507.90" y2="500.95" stroke-width="1.69" />
<line x1="531.50" y1="494.95" x2="531.50" y2="497.25" stroke-width="1.43" />
<path d="M507.60,508.12 L531.50,504.62 L531.50,506.62 L508.40,510.42 Z" stroke-width="1.30" fill="#fff" />
<line x1="507.60" y1="507.92" x2="507.90" y2="510.42" stroke-width="1.69" />
<line x1="531.50" y1="504.42" x2="531.50" y2="506.72" stroke-width="1.43" />
<path d="M507.60,517.59 L531.50,514.09 L531.50,516.09 L508.40,519.89 Z" stroke-width="1.30" fill="#fff" />
<line x1="507.60" y1="517.39" x2="507.90" y2="519.89" stroke-width="1.69" />
<line x1="531.50" y1="513.89" x2="531.50" y2="516.19" stroke-width="1.43" />
<path d="M507.60,527.06 L531.50,523.56 L531.50,525.56 L508.40,529.36 Z" stroke-width="1.30" fill="#fff" />
<line x1="507.60" y1="526.86" x2="507.90" y2="529.36" stroke-width="1.69" />
<line x1="531.50" y1="523.36" x2="531.50" y2="525.66" stroke-width="1.43" />
</g>
<line x1="506.40" y1="520.40" x2="532.60" y2="523.60" stroke-width="1.17" />
<path d="M494.4,83.2 H544.8 V291.4 H494.4 Z" stroke-width="1.30" fill="#fff" />
<circle cx="519.50" cy="142.90" r="16.00" stroke-width="1.43" fill="none" />
<path d="M501,291.4 V295.2 H539.4 V291.4" stroke-width="1.04" fill="#fff" />
<line x1="501.00" y1="294.00" x2="539.40" y2="294.00" stroke-width="0.78" />
<path d="M499.4,295.6 H540.4" stroke-width="1.17" fill="none" />
<path d="M499.4,295.6 V300.2 C499.6,304.5 503,305.5 503,309.5 V348.4 C503,352 500.2,353.5 500.2,357.4" stroke-width="1.49" fill="none" />
<path d="M540.4,295.6 V300.2 C540.2,304.5 537,305.5 537,309.5 V348.4 C537,352 539.8,353.5 539.8,357.4" stroke-width="1.49" fill="none" />
<line x1="535.30" y1="309.50" x2="535.30" y2="348.40" stroke-width="1.04" />
<line x1="503.00" y1="348.50" x2="537.00" y2="348.50" stroke-width="1.17" />
<line x1="500.20" y1="357.40" x2="506.40" y2="357.40" stroke-width="1.17" />
<line x1="532.60" y1="357.40" x2="539.80" y2="357.40" stroke-width="1.17" />
<path d="M541,298.2 H544.7 V357.5" stroke-width="1.17" fill="none" />
<line x1="367.50" y1="62.40" x2="367.50" y2="242.60" stroke-width="1.04" />
<line x1="544.80" y1="62.40" x2="544.80" y2="83.20" stroke-width="1.04" />
<line x1="367.50" y1="65.50" x2="544.80" y2="65.50" stroke-width="1.04" />
<polygon points="367.50,65.50 373.80,63.95 373.80,67.05" fill="#141414" stroke="none"/>
<polygon points="544.80,65.50 538.50,67.05 538.50,63.95" fill="#141414" stroke="none"/>
<text x="456.00" y="64.00" font-size="7.4" text-anchor="middle" >99</text>
<line x1="341.10" y1="210.40" x2="383.60" y2="210.40" stroke-width="1.04" />
<line x1="383.60" y1="207.10" x2="383.60" y2="298.50" stroke-width="1.04" />
<polygon points="367.50,210.40 374.00,208.80 374.00,212.00" fill="#141414" stroke="none"/>
<polygon points="383.60,210.40 377.40,212.00 377.40,208.80" fill="#141414" stroke="none"/>
<text x="341.60" y="209.00" font-size="7.3" text-anchor="start" >9</text>
<line x1="544.80" y1="83.20" x2="609.80" y2="83.20" stroke-width="1.04" />
<line x1="584.50" y1="83.20" x2="584.50" y2="328.10" stroke-width="1.04" />
<line x1="606.90" y1="83.20" x2="606.90" y2="357.50" stroke-width="1.04" />
<line x1="544.80" y1="328.10" x2="587.60" y2="328.10" stroke-width="1.04" />
<polygon points="584.50,83.20 586.05,89.50 582.95,89.50" fill="#141414" stroke="none"/>
<polygon points="584.50,328.10 582.95,321.80 586.05,321.80" fill="#141414" stroke="none"/>
<polygon points="606.90,83.20 608.45,89.50 605.35,89.50" fill="#141414" stroke="none"/>
<polygon points="606.90,357.50 605.35,351.20 608.45,351.20" fill="#141414" stroke="none"/>
<text x="583.00" y="205.50" font-size="7.2" text-anchor="middle" transform="rotate(-90 583.00 205.50)" >141</text>
<text x="605.20" y="219.60" font-size="7.2" text-anchor="middle" transform="rotate(-90 605.20 219.60)" >158</text>
<path d="M532.8,454.2 L553.2,436.2 H566.2" stroke-width="1.04" fill="none" />
<circle cx="532.80" cy="454.20" r="0.90" stroke-width="0.65" fill="#141414" />
<text x="566.70" y="439.00" font-size="7.7" text-anchor="start"  textLength="25.8" lengthAdjust="spacingAndGlyphs">L=1250</text>
<text x="416.00" y="494.60" font-size="7.8" text-anchor="start" style="stroke-width:0.33px" textLength="15.0" lengthAdjust="spacingAndGlyphs">OUT</text>
<polygon points="423.6,504.3 427.9,504.3 427.9,517.1 432.2,517.1 425.75,527.9 419.3,517.1 423.6,517.1" fill="#000" stroke="none"/>
<path d="M455.70,604.90 C455.85,607.32 456.73,614.12 456.60,619.40 C456.47,624.68 455.33,631.17 454.90,636.60 C454.47,642.03 453.87,647.43 454.00,652.00 C454.13,656.57 454.42,660.00 455.70,664.00 C456.98,668.00 458.55,672.57 461.70,676.00 C464.85,679.43 470.17,682.52 474.60,684.60 C479.03,686.68 484.30,687.73 488.30,688.50 C492.30,689.27 496.88,689.08 498.60,689.20 " stroke-width="1.17" fill="none" stroke-dasharray="10.9 4 3.4 4"/>
<path d="M517.50,527.40 C517.50,532.00 517.43,546.23 517.50,555.00 C517.57,563.77 517.63,572.40 517.90,580.00 C518.17,587.60 518.47,594.03 519.10,600.60 C519.73,607.17 520.98,613.40 521.70,619.40 C522.42,625.40 523.03,631.17 523.40,636.60 C523.77,642.03 524.03,646.58 523.90,652.00 C523.77,657.42 523.68,664.25 522.60,669.10 C521.52,673.95 519.68,678.10 517.40,681.10 C515.12,684.10 512.03,685.75 508.90,687.10 C505.77,688.45 500.32,688.85 498.60,689.20 " stroke-width="1.17" fill="none" stroke-dasharray="10.9 4 3.4 4" stroke-dashoffset="17.6"/>
</svg>
</body>
</html>
